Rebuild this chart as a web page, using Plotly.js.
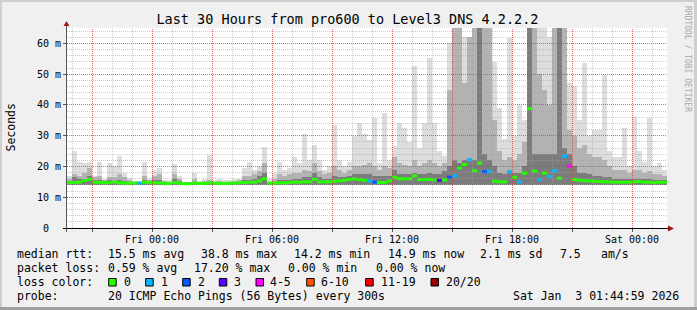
<!DOCTYPE html>
<html><head><meta charset="utf-8">
<script src="https://cdn.plot.ly/plotly-3.0.1.min.js"></script>
<style>html,body{margin:0;padding:0;background:#f0f0f0;}#chart{width:697px;height:310px;}</style>
</head><body><div id="chart"></div>
<script>
// ---- time axis: hours relative to Fri 00:00, 15-minute bins ----
const startHour = -4.25;
const stepHour = 0.25;

// ---- median rtt (ms) per bin ----
const median = [
 14.7,14.8,14.9,15.4,15.8,14.9,14.8,14.7,14.8,14.9,
 14.7,14.6,14.6,14.6,14.6,14.9,14.8,14.7,14.7,14.5,
 14.5,14.8,14.6,14.4,14.4,14.6,14.5,14.5,14.7,14.6,
 14.5,14.5,14.6,14.6,14.7,14.8,14.9,14.9,15.3,16.0,
 14.6,14.6,14.7,14.7,14.8,14.9,14.9,15.0,15.0,15.8,
 15.0,15.0,15.0,15.2,15.3,15.5,15.8,15.9,15.7,15.5,
 15.3,14.9,14.8,14.8,15.3,16.5,16.0,16.0,16.0,17.0,
 15.7,15.7,15.8,15.6,15.5,15.6,16.5,17.0,19.5,20.6,
 22.2,18.6,21.1,18.3,18.5,15.2,15.0,15.0,18.3,16.5,
 15.0,17.8,38.8,18.5,15.7,17.8,16.8,18.6,16.2,23.3,
 20.1,15.7,15.5,15.4,15.3,15.2,15.1,15.0,15.0,14.9,
 14.9,14.9,14.9,15.0,15.1,14.9,14.9,14.8,14.9,14.9];

// ---- loss class index per bin (index into lossColors) ----
const lossIdx = [
 0,0,0,0,0,0,0,0,0,0,
 0,0,0,0,1,0,0,0,0,0,
 0,0,0,0,0,0,0,0,0,0,
 0,0,0,0,0,0,0,0,0,0,
 0,0,0,0,0,0,0,0,0,0,
 0,0,0,0,0,0,0,0,0,0,
 1,2,0,0,0,0,0,0,0,0,
 0,0,0,0,3,0,2,1,0,0,
 1,0,0,2,1,0,0,0,1,0,
 1,0,0,0,1,0,1,1,0,1,
 4,0,0,0,0,0,0,0,0,0,
 0,0,0,0,0,0,0,0,0,0];

// ---- smoke envelopes (ms): light = max, mid, dark core ----
const smokeLight = [
 17,25,21.6,21,21.6,17,21.5,16,21,20,
 23.4,17.9,16.4,15.3,15.3,21.3,16,19,19.5,15.5,
 15.5,20.7,17,15,15,17.8,15.2,16,23.6,15.5,
 15.9,15.5,15.5,16,16,19.5,21.6,19,20,26.2,
 16,17.9,21.3,19,19.5,23,21,30.7,22,27,
 22,19,20,33.5,22,20,21.6,30,34,30.4,
 28.7,35.8,21,37.4,22,26.5,34,32.5,28,52.5,
 26,34,55.3,34,25,23.4,60.2,65,65,62,
 62,65,65,65,65,54,39,29,61.7,30,
 40,35,65,65,65,65,62,65,65,65,
 47,46,35,53.6,30,32,32,49.8,24.9,23,
 23,32.5,20,36.2,25,21.6,35.6,20,21,19];
const smokeMid = [
 15.8,17.5,17,18,19.5,16.5,17,15.5,16.5,16.5,
 17.5,16.5,15.5,15,15,17,15.5,17,17.5,15.2,
 15,17.5,16,14.8,14.8,16,14.9,15.3,15.5,15,
 15.2,15,15,15.3,15.5,17,17,17.5,18.5,21,
 15,16,17.5,17,17.5,18,18,19,18.5,21,
 18.5,17.5,18,20,19,18,19,20,20,20.5,
 21,20,19,20,19.5,23,21,20.5,20,22,
 20,21,22,21,20,21,45,65,65,47,
 62,65,65,65,65,35,25,22,23,22,
 24,28,65,65,50,45,40,65,65,65,
 32,30,26,27,24,23,23,22,20,19,
 19,19,18,19,19,18,18.5,17.5,17.5,17];
const smokeDark = [
 15.2,16.5,15.8,16,17,15.5,15.5,15.2,15.5,15.4,
 15.5,15.3,15,14.9,14.9,15.5,15,15.5,15.5,15,
 14.8,15.8,15.2,14.7,14.7,15,14.7,14.9,15,14.8,
 14.9,14.8,14.8,14.9,15,15.5,15.6,16,17,18,
 14.8,15,15.5,15.5,15.5,16,16,16.5,16.5,18,
 16.5,16,16,17,16.5,16.5,17,17.5,17.5,17.5,
 17.5,17,17,17,17,19,17.5,17.5,17.5,18,
 17.5,17.5,18,17.5,17.5,18.5,20,22,21,22,
 22,22,65,24,22,20,18,17.5,18,18,
 18,20,65,24,24,24,24,24,65,26,
 24,20,18,18,17.5,17,17,16.5,16.5,16,
 16,16,15.8,16,16,15.8,16,15.7,15.5,15.5];
const smokeBase = 14.0;

// ---- legend / loss classes ----
const lossLabels = ['0','1','2','3','4-5','6-10','11-19','20/20'];
const lossColors = ['#26ff00','#00b8ff','#0059ff','#5e00ff','#ff00ff','#ff5500','#ff0000','#a10000'];

// ---- tick labels ----
const xTickVals = [0,6,12,18,24];
const xTickText = ['Fri 00:00','Fri 06:00','Fri 12:00','Fri 18:00','Sat 00:00'];
const yTickVals = [0,10,20,30,40,50,60];
const yTickText = ['0\u00a0\u00a0','10 m','20 m','30 m','40 m','50 m','60 m'];

// ---- statistics text ----
const rttStats = ['15.5 ms avg','38.8 ms max','14.2 ms min','14.9 ms now','2.1 ms sd','7.5','am/s'];
const lossStats = ['0.59 % avg','17.20 % max','0.00 % min','0.00 % now'];
const probeText = '20 ICMP Echo Pings (56 Bytes) every 300s';
const stampText = 'Sat Jan  3 01:44:59 2026';
const titleText = 'Last 30 Hours from pro600 to Level3 DNS 4.2.2.2';

// ================= drawing =================
const mono = 'DejaVu Sans Mono';
const L = 67, T = 28, W = 600, H = 200;
const px = x => (x - L) / W;
const py = y => (T + H - y) / H;
const nb = s => s.replace(/ /g, '\u00a0');
const xRange = [startHour, startHour + stepHour * median.length];
const yRange = [0, 65];
const xPix = W / (xRange[1] - xRange[0]);
const yPix = H / (yRange[1] - yRange[0]);

const xc = median.map((_, i) => startHour + stepHour * i + stepHour / 2);

function smokeTrace(top, color) {
  return {type: 'bar', x: xc, y: top.map(v => v - smokeBase), base: smokeBase,
    width: stepHour, marker: {color: color, line: {width: 0}}, hoverinfo: 'skip'};
}
const traces = [
  smokeTrace(smokeLight, '#dddddd'),
  smokeTrace(smokeMid, '#b3b3b3'),
  smokeTrace(smokeDark, '#7c7c7c'),
  {type: 'scatter', mode: 'markers', x: xc, y: median, cliponaxis: true,
   marker: {symbol: 'line-ew', size: 3.7, color: lossIdx.map(k => lossColors[k]),
            line: {width: 3, color: lossIdx.map(k => lossColors[k])}}, hoverinfo: 'skip'},
  {type: 'scatter', mode: 'none', x: [xc[0]], y: [median[0]], xaxis: 'x2', yaxis: 'y2', hoverinfo: 'skip'}
];

const RED = 'rgba(228,50,50,0.75)';
const GRAY = 'rgba(160,160,160,0.55)';

// ---- grid (rrdtool style dotted, drawn over the smoke) ----
const gridMinor = [], gridMajor = [];
for (let h = Math.ceil(xRange[0]); h < xRange[1]; h++) {
  const xv = h + 0.5 / xPix;
  const major = (h % 3 === 0);
  const s = {type:'line', xref:'x', yref:'y', x0:xv, x1:xv, y0:yRange[0], y1:yRange[1], layer:'above',
             line:{color: major ? RED : GRAY, width:1, dash:'1px,1px'}};
  (major ? gridMajor : gridMinor).push(s);
}
for (let v = 2; v < yRange[1]; v += 2) {
  const pix = (yRange[1] - v) * yPix;
  const vv = yRange[1] - (Math.floor(pix) + 0.5) / yPix;
  const major = (v % 10 === 0);
  const s = {type:'line', xref:'x', yref:'y', x0:xRange[0], x1:xRange[1], y0:vv, y1:vv, layer:'above',
             line:{color: major ? RED : GRAY, width:1, dash:'1px,1px'}};
  (major ? gridMajor : gridMinor).push(s);
}

const shapes = gridMinor.concat(gridMajor, [
  {type:'rect', xref:'paper', yref:'paper', x0:px(0), x1:px(697), y0:py(0), y1:py(2), fillcolor:'#cfcfcf', line:{width:0}},
  {type:'rect', xref:'paper', yref:'paper', x0:px(0), x1:px(2), y0:py(0), y1:py(310), fillcolor:'#cfcfcf', line:{width:0}},
  {type:'rect', xref:'paper', yref:'paper', x0:px(694), x1:px(697), y0:py(0), y1:py(310), fillcolor:'#cfcfcf', line:{width:0}},
  {type:'rect', xref:'paper', yref:'paper', x0:px(0), x1:px(697), y0:py(307), y1:py(310), fillcolor:'#9e9e9e', line:{width:0}},
  {type:'line', xref:'paper', yref:'paper', x0:px(63), x1:px(669), y0:py(228.5), y1:py(228.5), line:{color:'#000', width:1}},
  {type:'line', xref:'paper', yref:'paper', x0:px(66.5), x1:px(66.5), y0:py(232), y1:py(24), line:{color:'#555', width:1}},
  {type:'path', xref:'paper', yref:'paper', fillcolor:'#a01818', line:{width:0},
   path:`M${px(668)},${py(225.5)} L${px(674)},${py(228.5)} L${px(668)},${py(231.5)} Z`},
  {type:'path', xref:'paper', yref:'paper', fillcolor:'#a01818', line:{width:0},
   path:`M${px(63.5)},${py(26)} L${px(66.5)},${py(21)} L${px(69.5)},${py(26)} Z`}
]);

function txt(x, y, s, extra) {
  return Object.assign({xref:'paper', yref:'paper', x:px(x), y:py(y), text:nb(s), showarrow:false,
    xanchor:'left', yanchor:'middle', borderpad:0, font:{family:mono, size:11.5, color:'#000'}}, extra || {});
}
const ann = [];
ann.push(txt(10, 127.5, 'Seconds', {xanchor:'center', textangle:-90}));
ann.push(txt(688, 59, 'RRDTOOL / TOBI OETIKER', {xanchor:'center', textangle:90, font:{family:mono, size:8, color:'#a8a8a8'}}));
const r1x = [107, 200, 293, 386.7, 479.3, 559.3, 600];
ann.push(txt(16, 254, 'median rtt:'));
rttStats.forEach((s, i) => ann.push(txt(r1x[i], 254, s)));
const r2x = [107, 193.3, 286.7, 375];
ann.push(txt(16, 268, 'packet loss:'));
lossStats.forEach((s, i) => ann.push(txt(r2x[i], 268, s)));
const boxX = [108.7, 145.7, 182.7, 219.3, 256, 306.7, 365.7, 431];
const labX = [123, 160, 197, 233, 269, 320, 380, 445];
ann.push(txt(16, 282, 'loss color:'));
lossLabels.forEach((s, i) => {
  ann.push(txt(labX[i], 282, s));
  shapes.push({type:'rect', xref:'paper', yref:'paper', x0:px(boxX[i]), x1:px(boxX[i] + 7.5),
    y0:py(278.5), y1:py(286), fillcolor:lossColors[i], line:{color:'#000', width:1}});
});
ann.push(txt(16, 296, 'probe:'));
ann.push(txt(107, 296, probeText));
ann.push(txt(680, 296, stampText, {xanchor:'right'}));

const tickFont = {family: mono, size: 10, color: '#000'};
const layout = {
  width: 697, height: 310,
  margin: {l: L, r: 697 - L - W, t: T, b: 310 - T - H, pad: 0},
  paper_bgcolor: '#f0f0f0', plot_bgcolor: '#ffffff',
  showlegend: false, barmode: 'overlay', bargap: 0,
  title: {text: titleText, x: 347.5 / 697, xref: 'container', xanchor: 'center',
          y: 1 - 19 / 310, yref: 'container', yanchor: 'middle',
          font: {family: mono, size: 13.5, color: '#000'}},
  xaxis: {range: xRange, tickmode: 'linear', tick0: 0, dtick: 3, showticklabels: false, showgrid: false,
          ticks: 'outside', ticklen: 3, tickcolor: '#555', showline: false, zeroline: false, fixedrange: true},
  yaxis: {range: yRange, tickmode: 'linear', tick0: 0, dtick: 10, showticklabels: false, showgrid: false,
          ticks: 'outside', ticklen: 3, tickcolor: '#555', showline: false, zeroline: false, fixedrange: true},
  xaxis2: {overlaying: 'x', anchor: 'y', side: 'bottom', range: xRange, tickmode: 'array',
           tickvals: xTickVals, ticktext: xTickText, showgrid: false, zeroline: false, showline: false,
           ticks: '', ticklabelstandoff: 4, tickfont: tickFont, fixedrange: true},
  yaxis2: {overlaying: 'y', anchor: 'x', side: 'left', range: yRange, tickmode: 'array',
           tickvals: yTickVals, ticktext: yTickText, showgrid: false, zeroline: false, showline: false,
           ticks: '', ticklabelstandoff: 5, tickfont: tickFont, fixedrange: true},
  shapes: shapes, annotations: ann
};

Plotly.newPlot('chart', traces, layout, {staticPlot: true, displayModeBar: false});
</script></body></html>
